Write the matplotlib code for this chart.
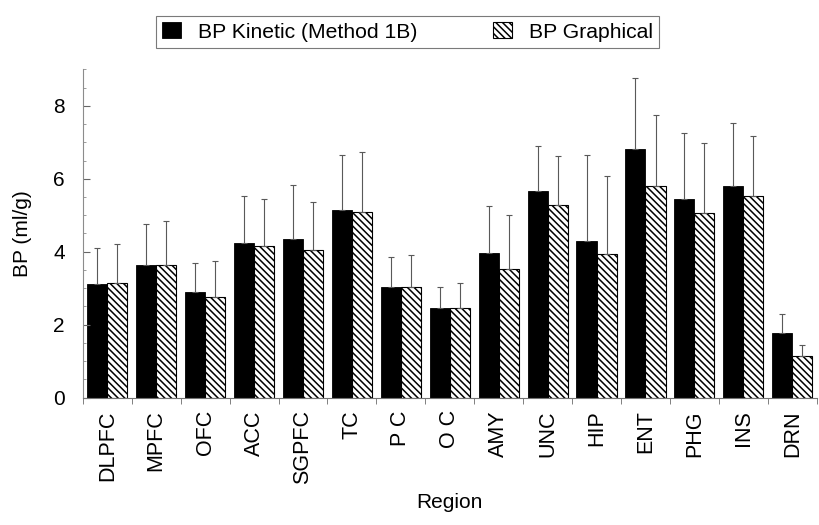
import numpy as np
import matplotlib
matplotlib.use('Agg')
import matplotlib.pyplot as plt
from matplotlib.ticker import MultipleLocator, FixedLocator, NullFormatter

plt.rcParams['font.family'] = ['Liberation Sans', 'DejaVu Sans']
plt.rcParams['hatch.linewidth'] = 1.1

regions = ['DLPFC', 'MPFC', 'OFC', 'ACC', 'SGPFC', 'TC', 'P C', 'O C', 'AMY',
           'UNC', 'HIP', 'ENT', 'PHG', 'INS', 'DRN']

# BP kinetic (method 1B): mean and upper SD
kinetic = [3.11, 3.63, 2.90, 4.24, 4.35, 5.15, 3.02, 2.47, 3.97, 5.66, 4.30, 6.81, 5.45, 5.81, 1.76]
kinetic_sd = [0.98, 1.12, 0.78, 1.28, 1.47, 1.50, 0.84, 0.57, 1.28, 1.24, 2.35, 1.95, 1.81, 1.73, 0.54]

# BP graphical: mean and upper SD
graphical = [3.13, 3.63, 2.75, 4.17, 4.04, 5.09, 3.02, 2.47, 3.54, 5.28, 3.94, 5.79, 5.07, 5.53, 1.15]
graphical_sd = [1.08, 1.20, 0.99, 1.28, 1.33, 1.65, 0.88, 0.67, 1.46, 1.35, 2.14, 1.95, 1.91, 1.64, 0.30]

x = np.arange(len(regions))
w = 0.41

fig = plt.figure(figsize=(8.2, 5.25), dpi=100)
ax = fig.add_axes([0.101, 0.2425, 0.895, 0.6255])

err_kw = dict(ecolor='0.35', elinewidth=0.8, capsize=2, capthick=0.8)
ax.bar(x - w / 2, kinetic, w, color='black', edgecolor='black', linewidth=0.6,
       yerr=[np.zeros(len(x)), kinetic_sd], error_kw=err_kw,
       label='BP Kinetic (Method 1B)')
ax.bar(x + w / 2, graphical, w, color='white', edgecolor='black', linewidth=0.8,
       hatch='\\\\\\\\\\', yerr=[np.zeros(len(x)), graphical_sd], error_kw=err_kw,
       label='BP Graphical')

ax.set_xlim(-0.5, len(regions) - 0.5)
ax.set_ylim(0, 9)

ax.spines['top'].set_visible(False)
ax.spines['right'].set_visible(False)
ax.spines['left'].set_color('0.55')
ax.spines['left'].set_linewidth(0.8)
ax.spines['bottom'].set_color('0.45')
ax.spines['bottom'].set_linewidth(0.8)

ax.set_xticks(x)
ax.set_xticklabels(regions, rotation=90, fontsize=15.5)
ax.tick_params(axis='x', which='major', length=0, pad=9)
ax.xaxis.set_minor_locator(FixedLocator(np.arange(-0.5, len(regions), 1.0)))
ax.xaxis.set_minor_formatter(NullFormatter())
ax.tick_params(axis='x', which='minor', length=4, direction='out', color='0.5', width=0.7)

ax.set_yticks([0, 2, 4, 6, 8])
ax.yaxis.set_minor_locator(MultipleLocator(0.5))
ax.tick_params(axis='y', which='major', direction='in', length=5, width=0.8,
               color='0.4', labelsize=15, pad=13)
ax.tick_params(axis='y', which='minor', direction='in', length=2.5, width=0.6, color='0.55')

ax.set_ylabel('BP (ml/g)', fontsize=15, labelpad=15)
ax.set_xlabel('Region', fontsize=15, labelpad=6)

leg = fig.legend(loc='center', bbox_to_anchor=(0.497, 0.939), ncol=2, fontsize=15.2,
                 frameon=True, fancybox=False, handlelength=0.9, handleheight=0.8,
                 handletextpad=0.8, columnspacing=3.6, borderpad=0.3)
leg.get_frame().set_edgecolor('0.35')
leg.get_frame().set_linewidth(0.8)

fig.savefig('out.png', dpi=100)
